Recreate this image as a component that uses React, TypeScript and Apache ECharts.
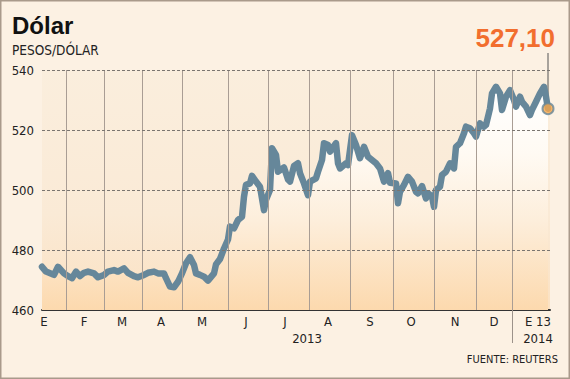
import React, { useEffect, useRef } from 'react';
import * as echarts from 'echarts';

// Trading-day index (0 = mid Jan 2013, 253 = 13 Jan 2014) and CLP per USD
const days = [0, 2, 5, 6, 8, 11, 13, 15, 17, 19, 21, 23, 26, 28, 31, 33, 36, 38, 41, 43, 46, 48, 51, 53, 56, 58, 61, 62, 64, 66, 68, 70, 72, 74, 76, 77, 79, 81, 83, 86, 87, 89, 91, 93, 94, 96, 98, 100, 101, 102, 104, 105, 107, 109, 111, 112, 114, 115, 117, 118, 121, 123, 124, 126, 128, 129, 131, 133, 134, 137, 138, 140, 141, 143, 144, 147, 148, 149, 152, 153, 155, 157, 159, 161, 163, 165, 167, 169, 171, 173, 174, 177, 178, 179, 181, 183, 185, 187, 188, 190, 192, 193, 195, 196, 197, 199, 200, 202, 204, 206, 207, 209, 211, 212, 214, 216, 217, 219, 221, 222, 224, 225, 227, 229, 230, 232, 234, 236, 237, 239, 240, 242, 244, 245, 247, 249, 251, 252, 253];
const values = [474.4, 472.8, 472.0, 471.7, 474.4, 472.2, 471.3, 470.6, 472.8, 471.3, 472.4, 472.8, 472.2, 470.9, 471.7, 472.8, 473.3, 472.8, 473.9, 472.4, 471.3, 470.9, 471.7, 472.4, 472.8, 472.2, 472.2, 470.6, 467.8, 467.6, 469.4, 472.2, 475.6, 477.6, 475.0, 472.2, 471.7, 471.1, 469.8, 472.2, 475.2, 477.0, 480.5, 483.5, 487.8, 487.2, 490.0, 491.1, 497.8, 501.7, 502.2, 504.7, 502.8, 501.1, 493.3, 496.7, 500.0, 513.9, 511.7, 506.1, 507.5, 503.5, 502.8, 508.0, 508.9, 505.6, 502.2, 498.3, 502.8, 503.9, 506.1, 510.0, 515.6, 515.0, 512.8, 515.6, 508.9, 507.2, 508.9, 508.3, 518.3, 515.0, 510.6, 514.4, 511.1, 510.0, 508.9, 507.2, 502.8, 505.6, 502.4, 502.2, 495.6, 499.4, 501.7, 504.4, 502.8, 499.4, 498.9, 501.3, 497.2, 498.9, 497.8, 494.4, 500.0, 501.1, 505.0, 506.1, 508.9, 507.2, 514.4, 515.6, 518.9, 521.1, 520.6, 518.9, 517.8, 522.2, 521.1, 521.7, 527.2, 532.2, 534.4, 532.2, 526.7, 531.1, 533.3, 530.0, 527.8, 531.1, 529.4, 527.8, 525.0, 526.7, 529.4, 532.2, 534.4, 531.1, 527.1];

const monthStartDays = [12, 31, 50, 70, 93, 113, 133.5, 154, 175.5, 196, 217, 235];
const monthLabelDays = [1, 21, 40, 59.5, 80, 102, 121.5, 143, 164, 184.5, 206.5, 226, 248];
const monthLabels = ['E', 'F', 'M', 'A', 'M', 'J', 'J', 'A', 'S', 'O', 'N', 'D', 'E 13'];
const yearLabelDays = [132.5, 248];
const yearLabels = ['2013', '2014'];
const yGridValues = [480, 500, 520, 540];
const yearBreakDay = 235;
const lastValueText = '527,10';

const FONT = "'DejaVu Sans Condensed', 'Liberation Sans Narrow', 'Liberation Sans', sans-serif";
const BOLD_FONT = "'Liberation Sans', Arial, sans-serif";
const LINE = '#66879A';

export default function App() {
  const ref = useRef<HTMLDivElement>(null);
  useEffect(() => {
    const chart = echarts.init(ref.current!, null, { renderer: 'svg' });
    const lineData = days.map((d, i) => [d, values[i]]);
    const last = lineData[lineData.length - 1];

    chart.setOption({
      animation: false,
      backgroundColor: '#FCF1E3',
      textStyle: { fontFamily: FONT },
      grid: {
        left: 42, right: 20, top: 70, bottom: 69, show: true, borderWidth: 0,
        backgroundColor: new echarts.graphic.LinearGradient(0, 0, 0, 1, [
          { offset: 0, color: '#FAEEDD' },
          { offset: 0.6, color: '#FAEAD6' },
          { offset: 1, color: '#FBE1C2' },
        ]),
      },
      xAxis: [
        {
          type: 'value', min: 0, max: 254,
          axisLine: { lineStyle: { color: '#333', width: 2 } },
          axisTick: { show: true, customValues: [yearBreakDay], length: 33, lineStyle: { color: '#9C928A', width: 1 } },
          axisLabel: {
            customValues: monthLabelDays,
            formatter: (v: number) => monthLabels[monthLabelDays.indexOf(v)] ?? '',
            margin: 5, fontSize: 13, color: '#222', fontFamily: FONT,
          },
          splitLine: { show: false },
        },
        {
          type: 'value', min: 0, max: 254, position: 'bottom',
          axisLine: { show: false }, axisTick: { show: false }, splitLine: { show: false },
          axisLabel: {
            customValues: yearLabelDays,
            formatter: (v: number) => yearLabels[yearLabelDays.indexOf(v)] ?? '',
            margin: 22, fontSize: 13, color: '#222', fontFamily: FONT,
          },
        },
      ],
      yAxis: {
        type: 'value', min: 460, max: 540, interval: 20,
        axisLine: { show: false }, axisTick: { show: false }, splitLine: { show: false },
        axisLabel: { margin: 8, fontSize: 13, color: '#222', fontFamily: FONT },
      },
      series: [
        {
          type: 'line', z: 1, data: lineData, symbol: 'none', silent: true,
          lineStyle: { width: 0 },
          areaStyle: {
            origin: 'start', opacity: 1,
            color: new echarts.graphic.LinearGradient(0, 0, 0, 1, [
              { offset: 0, color: '#FFFFFF' },
              { offset: 0.3, color: '#FFFAF3' },
              { offset: 0.6, color: '#FDEEDB' },
              { offset: 1, color: '#FCD9AE' },
            ]),
          },
        },
        {
          type: 'line', z: 2, data: lineData, symbol: 'none', silent: true,
          lineStyle: { width: 0, opacity: 0 },
          markLine: {
            silent: true, symbol: 'none', label: { show: false },
            data: [
              ...monthStartDays.map((d) => ({ xAxis: d, lineStyle: { color: '#A99D94', width: 1, type: 'solid' } })),
              ...yGridValues.map((v) => ({ yAxis: v, lineStyle: { color: '#7A7570', width: 1, type: [3, 2] } })),
            ],
          },
        },
        {
          type: 'line', z: 3, data: lineData, symbol: 'none', silent: true,
          lineStyle: { width: 6.5, color: LINE, join: 'round', cap: 'round' },
        },
        {
          type: 'scatter', z: 4, data: [last], symbol: 'circle', symbolSize: 11, silent: true,
          itemStyle: { color: '#F8A64A', borderColor: LINE, borderWidth: 2 },
        },
      ],
      graphic: [
        { id: 'border', type: 'rect', shape: { x: 0.75, y: 0.75, width: 568.5, height: 377.5 }, style: { fill: 'none', stroke: '#A99A8B', lineWidth: 1.5 }, silent: true },
        { id: 'title', type: 'text', x: 12, y: 25.5, style: { text: 'Dólar', font: `bold 24px ${BOLD_FONT}`, fill: '#111', textVerticalAlign: 'middle' } },
        { id: 'sub', type: 'text', x: 12, y: 50, style: { text: 'PESOS/DÓLAR', font: `13.5px ${FONT}`, fill: '#222', textVerticalAlign: 'middle' } },
        { id: 'src', type: 'text', x: 558, y: 359, style: { text: 'FUENTE: REUTERS', font: `11px ${FONT}`, fill: '#222', textAlign: 'right', textVerticalAlign: 'middle' } },
      ],
    });

    const p = chart.convertToPixel({ gridIndex: 0 }, last) as number[];
    chart.setOption({
      graphic: [
        { id: 'leader', type: 'line', shape: { x1: p[0], y1: 53, x2: p[0], y2: p[1] - 6 }, style: { stroke: '#555', lineWidth: 1 }, silent: true },
        { id: 'value', type: 'text', x: p[0] + 7, y: 38, style: { text: lastValueText, font: `bold 26px ${BOLD_FONT}`, fill: '#F26E2E', textAlign: 'right', textVerticalAlign: 'middle' } },
      ],
    });

    return () => chart.dispose();
  }, []);

  return <div ref={ref} style={{ position: 'fixed', left: 0, top: 0, width: 570, height: 379 }} />;
}
